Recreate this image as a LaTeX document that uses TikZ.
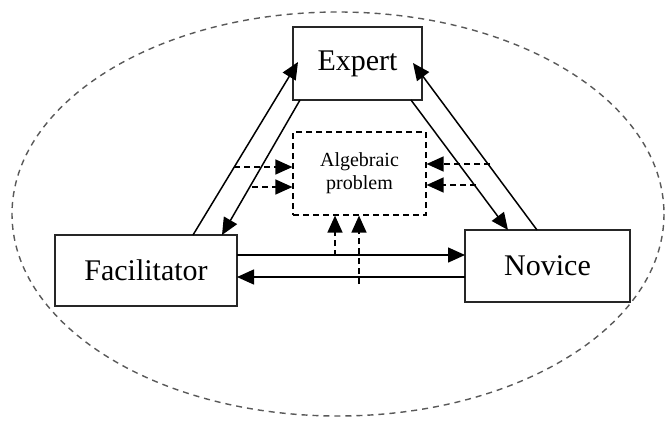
\documentclass[tikz,border=0pt]{standalone}
\usepackage{fontspec}
\setmainfont{Liberation Serif}
\usetikzlibrary{arrows.meta}
\begin{document}
\begin{tikzpicture}[x=1pt,y=-1pt,
  agent/.style={draw=black!85, line width=1.4pt, inner sep=0pt, font=\fontsize{30}{32}\selectfont},
  conn/.style={draw=black, line width=1.5pt, -{Triangle[length=17pt,width=15pt]}},
  dconn/.style={draw=black, line width=1.4pt, dash pattern=on 6pt off 4pt, -{Triangle[length=17pt,width=15pt]}},
  outer/.style={draw=black!65, line width=1.4pt, dash pattern=on 6pt off 5pt}]
\useasboundingbox (0,0) rectangle (667,423);
\fill[white] (0,0) rectangle (667,423);
\draw[outer] (338,214) ellipse [x radius=326, y radius=202];

\node[agent, minimum width=129pt, minimum height=73pt] (expert) at (357.5,63.5) {Expert};
\node[agent, minimum width=182pt, minimum height=71pt] (fac) at (146,270.5) {Facilitator};
\node[agent, minimum width=165pt, minimum height=72pt] (nov) at (547.5,266) {Novice};
\node[draw=black, line width=1.2pt, dash pattern=on 6pt off 4pt, minimum width=133pt, minimum height=83pt, align=center,
  font=\fontsize{20}{23}\selectfont] (alg) at (359.5,173.5) {Algebraic\\problem};

% endpoints on box borders
\coordinate (f1) at (193,235);
\coordinate (f2) at (222,235);
\coordinate (e1) at (298,62);
\coordinate (e2) at (300,100);
\coordinate (e3) at (413,63);
\coordinate (e4) at (411,100);
\coordinate (n1) at (508,230);
\coordinate (n2) at (537,230);
\coordinate (fr1) at (237,255);
\coordinate (fr2) at (237,277);
\coordinate (nl1) at (465,255);
\coordinate (nl2) at (465,277);

\draw[conn] (f1) -- (e1);
\draw[conn] (e2) -- (f2);
\draw[conn] (n2) -- (e3);
\draw[conn] (e4) -- (n1);
\draw[conn] (fr1) -- (nl1);
\draw[conn] (nl2) -- (fr2);

% dashed arrows into the problem box
\coordinate (d1) at (234,167);
\coordinate (d2) at (252,187);
\coordinate (d3) at (490,164);
\coordinate (d4) at (476,185);
\coordinate (d5) at (335,256);
\coordinate (d6) at (359,284);
\draw[dconn] (d1) -- (d1 -| alg.west);
\draw[dconn] (d2) -- (d2 -| alg.west);
\draw[dconn] (d3) -- (d3 -| alg.east);
\draw[dconn] (d4) -- (d4 -| alg.east);
\draw[dconn] (d5) -- (d5 |- alg.south);
\draw[dconn] (d6) -- (d6 |- alg.south);
\end{tikzpicture}
\end{document}
